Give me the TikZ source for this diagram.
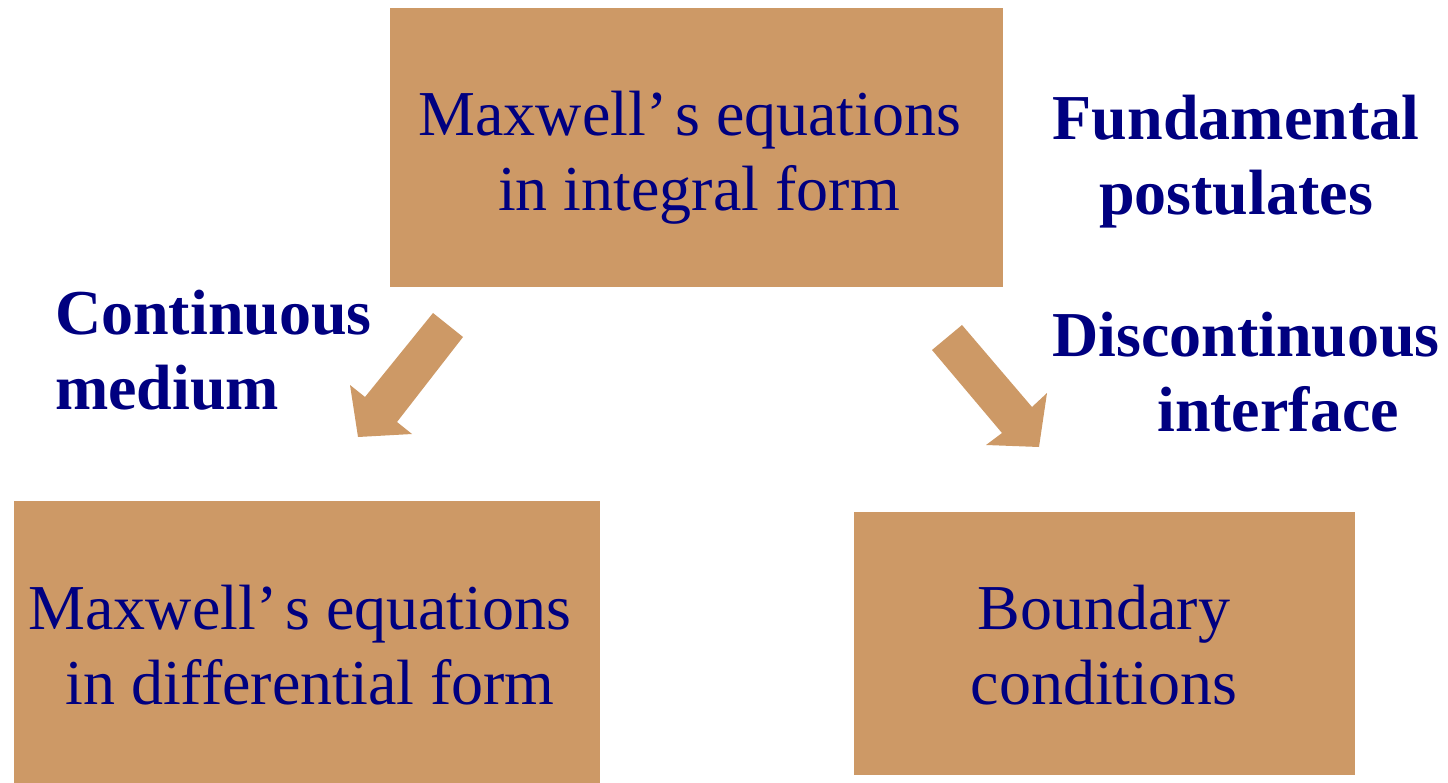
\documentclass[tikz,border=0pt]{standalone}
\usepackage{fontspec}
\setmainfont{Liberation Serif}
\definecolor{boxfill}{RGB}{205,153,102}
\definecolor{navy}{RGB}{0,0,128}
\tikzset{
  box/.style={fill=boxfill, draw=none, inner sep=0pt, anchor=north west},
  boxtext/.style={text=navy, align=center, inner sep=0pt, font=\fontsize{64pt}{75pt}\selectfont},
  label/.style={text=navy, inner sep=0pt, font=\fontsize{64pt}{75pt}\selectfont\bfseries},
  bigarrow/.style={fill=boxfill, draw=none}
}
\begin{document}
\begin{tikzpicture}[x=1pt,y=-1pt]
\useasboundingbox (0,0) rectangle (1448,783);
% boxes
\node[box, minimum width=613pt, minimum height=279pt] (top) at (390,8) {};
\node[box, minimum width=586pt, minimum height=282pt] (left) at (14,501) {};
\node[box, minimum width=501pt, minimum height=263pt] (right) at (854,512) {};
% box texts
\node[boxtext] (toptext) at (690,157.5) {Maxwell’\hspace{0.12em}s equations\\\hspace*{18pt}in integral form};
\node[boxtext] (lefttext) at (300,645.5) {Maxwell’\hspace{0.12em}s equations\\\hspace*{20pt}in differential form};
\node[boxtext] (righttext) at (1104,645.5) {Boundary\\conditions};
% labels
\node[label, align=center] (fund) at (1236,161.5) {Fundamental\\postulates};
\node[label, align=left, anchor=west] (cont) at (55,350) {Continuous\\medium};
\node[label, align=left, anchor=west] (disc) at (1052,372) {Discontinuous\\\hspace*{105pt}interface};
% arrows
\fill[bigarrow] (433,313) -- (463,337) -- (397,422) -- (412,434) -- (358,437) -- (350,385) -- (365,397) -- cycle;
\fill[bigarrow] (962,325) -- (932,350) -- (1002,433) -- (986,445) -- (1039,447) -- (1047,393) -- (1032,407) -- cycle;
\end{tikzpicture}
\end{document}
